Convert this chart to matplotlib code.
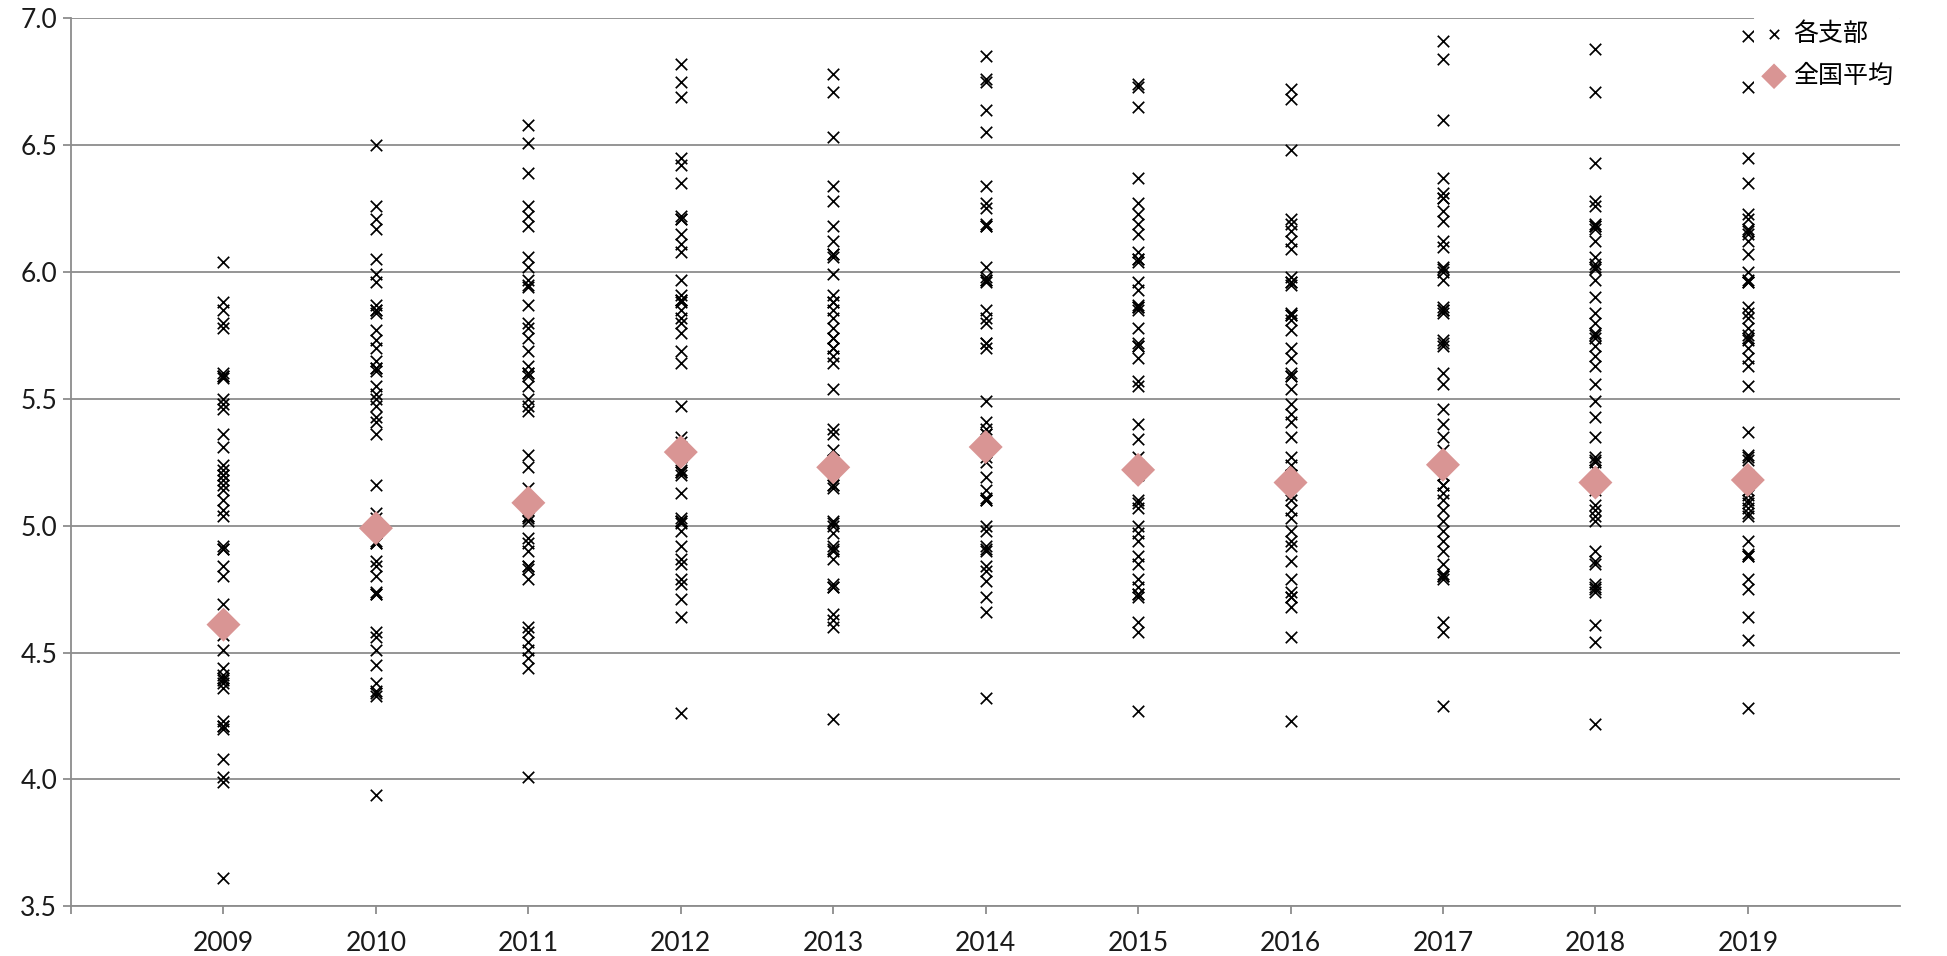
import matplotlib.pyplot as plt

plt.rcParams['font.family'] = ['Lato', 'Noto Sans CJK JP', 'DejaVu Sans']

years = [2009, 2010, 2011, 2012, 2013, 2014, 2015, 2016, 2017, 2018, 2019]

# values for each branch, per year
v2009 = [6.04, 5.88, 5.85, 5.80, 5.78, 5.60, 5.59, 5.59, 5.58, 5.50, 5.48, 5.46, 5.36, 5.31,
         5.24, 5.22, 5.20, 5.20, 5.18, 5.16, 5.14, 5.10, 5.06, 5.04, 4.92, 4.91, 4.91, 4.84,
         4.80, 4.69, 4.62, 4.57, 4.51, 4.44, 4.41, 4.40, 4.39, 4.38, 4.36, 4.23, 4.21, 4.21,
         4.20, 4.08, 4.01, 3.99, 3.61]
v2010 = [6.50, 6.26, 6.21, 6.17, 6.05, 5.99, 5.96, 5.87, 5.85, 5.85, 5.84, 5.77, 5.73, 5.70,
         5.65, 5.62, 5.62, 5.61, 5.55, 5.52, 5.50, 5.47, 5.43, 5.41, 5.36, 5.16, 5.05, 5.03,
         4.99, 4.94, 4.93, 4.93, 4.86, 4.84, 4.80, 4.74, 4.73, 4.73, 4.58, 4.56, 4.51, 4.45,
         4.38, 4.35, 4.34, 4.33, 3.94]
v2011 = [6.58, 6.51, 6.39, 6.26, 6.22, 6.18, 6.06, 6.02, 5.97, 5.95, 5.94, 5.87, 5.80, 5.78,
         5.74, 5.69, 5.63, 5.60, 5.60, 5.59, 5.55, 5.50, 5.47, 5.45, 5.28, 5.23, 5.15, 5.10,
         5.06, 5.04, 5.04, 5.03, 5.02, 4.95, 4.93, 4.90, 4.84, 4.84, 4.83, 4.79, 4.60, 4.58,
         4.54, 4.51, 4.48, 4.44, 4.01]
v2012 = [6.82, 6.75, 6.69, 6.45, 6.42, 6.35, 6.22, 6.21, 6.21, 6.15, 6.11, 6.08, 5.97, 5.91,
         5.89, 5.89, 5.88, 5.85, 5.82, 5.80, 5.76, 5.69, 5.64, 5.47, 5.35, 5.33, 5.31, 5.31,
         5.27, 5.22, 5.21, 5.21, 5.20, 5.13, 5.03, 5.02, 5.02, 5.01, 4.98, 4.92, 4.87, 4.85,
         4.79, 4.77, 4.71, 4.64, 4.26]
v2013 = [6.78, 6.71, 6.53, 6.34, 6.28, 6.18, 6.12, 6.07, 6.07, 6.06, 5.99, 5.91, 5.88, 5.88,
         5.85, 5.82, 5.78, 5.74, 5.74, 5.70, 5.70, 5.67, 5.64, 5.54, 5.38, 5.36, 5.30, 5.26,
         5.21, 5.16, 5.16, 5.15, 5.02, 5.01, 5.00, 4.97, 4.92, 4.91, 4.90, 4.87, 4.77, 4.76,
         4.76, 4.65, 4.63, 4.60, 4.24]
v2014 = [6.85, 6.76, 6.75, 6.64, 6.55, 6.34, 6.27, 6.25, 6.19, 6.18, 6.18, 6.02, 5.98, 5.97,
         5.97, 5.96, 5.85, 5.82, 5.80, 5.72, 5.72, 5.70, 5.49, 5.41, 5.38, 5.36, 5.36, 5.33,
         5.30, 5.27, 5.25, 5.19, 5.14, 5.11, 5.10, 5.10, 5.00, 4.98, 4.92, 4.91, 4.90, 4.84,
         4.82, 4.78, 4.72, 4.66, 4.32]
v2015 = [6.74, 6.73, 6.65, 6.37, 6.27, 6.23, 6.19, 6.15, 6.08, 6.05, 6.05, 6.04, 5.96, 5.93,
         5.87, 5.86, 5.86, 5.85, 5.78, 5.72, 5.71, 5.71, 5.66, 5.57, 5.55, 5.40, 5.34, 5.27,
         5.24, 5.24, 5.20, 5.10, 5.09, 5.07, 5.00, 4.97, 4.94, 4.88, 4.85, 4.79, 4.76, 4.73,
         4.73, 4.72, 4.62, 4.58, 4.27]
v2016 = [6.72, 6.68, 6.48, 6.21, 6.19, 6.16, 6.12, 6.09, 5.98, 5.96, 5.96, 5.95, 5.84, 5.83,
         5.83, 5.81, 5.77, 5.70, 5.66, 5.60, 5.59, 5.59, 5.54, 5.48, 5.44, 5.41, 5.35, 5.27,
         5.24, 5.20, 5.20, 5.16, 5.12, 5.10, 5.06, 5.03, 4.98, 4.94, 4.92, 4.86, 4.79, 4.74,
         4.72, 4.72, 4.68, 4.56, 4.23]
v2017 = [6.91, 6.84, 6.60, 6.37, 6.31, 6.29, 6.29, 6.24, 6.20, 6.12, 6.10, 6.02, 6.01, 6.00,
         5.97, 5.86, 5.85, 5.85, 5.84, 5.73, 5.72, 5.71, 5.60, 5.56, 5.46, 5.40, 5.35, 5.30,
         5.24, 5.20, 5.16, 5.16, 5.13, 5.10, 5.06, 5.02, 4.98, 4.94, 4.90, 4.85, 4.81, 4.80,
         4.80, 4.79, 4.62, 4.58, 4.29]
v2018 = [6.88, 6.71, 6.43, 6.28, 6.26, 6.19, 6.18, 6.18, 6.17, 6.12, 6.06, 6.03, 6.02, 6.01,
         5.97, 5.90, 5.84, 5.80, 5.76, 5.75, 5.74, 5.71, 5.67, 5.63, 5.56, 5.49, 5.43, 5.35,
         5.27, 5.26, 5.25, 5.22, 5.14, 5.08, 5.06, 5.04, 5.02, 4.90, 4.86, 4.85, 4.77, 4.76,
         4.75, 4.74, 4.61, 4.54, 4.22]
v2019 = [6.93, 6.73, 6.45, 6.35, 6.23, 6.21, 6.17, 6.16, 6.15, 6.12, 6.07, 6.00, 5.97, 5.96,
         5.96, 5.86, 5.84, 5.82, 5.78, 5.75, 5.74, 5.73, 5.70, 5.66, 5.63, 5.55, 5.37, 5.28,
         5.27, 5.26, 5.20, 5.14, 5.12, 5.10, 5.09, 5.07, 5.05, 5.04, 4.94, 4.89, 4.88, 4.88,
         4.79, 4.75, 4.64, 4.55, 4.28]

branch_values = [v2009, v2010, v2011, v2012, v2013, v2014, v2015, v2016, v2017, v2018, v2019]
national_avg = [4.61, 4.99, 5.09, 5.29, 5.23, 5.31, 5.22, 5.17, 5.24, 5.17, 5.18]

fig = plt.figure(figsize=(19.47, 9.56), dpi=100)
ax = fig.add_axes([0.0365, 0.052, 0.9395, 0.929])

xs, ys = [], []
for yr, vals in zip(years, branch_values):
    xs += [yr] * len(vals)
    ys += vals
ax.scatter(xs, ys, marker='x', s=68, color='black', linewidths=1.25, zorder=3, label='各支部')
ax.scatter(years, national_avg, marker='D', s=300, color='#D99594', edgecolors='none',
           zorder=4, label='全国平均')

ax.set_xlim(2008, 2020)
ax.set_ylim(3.5, 7.0)
ax.set_xticks([2008] + years)
ax.set_xticklabels([''] + [str(y) for y in years])
ax.set_yticks([3.5, 4.0, 4.5, 5.0, 5.5, 6.0, 6.5, 7.0])
ax.set_yticklabels(['3.5', '4.0', '4.5', '5.0', '5.5', '6.0', '6.5', '7.0'])
ax.yaxis.grid(True, color='#8c8c8c', linewidth=1.3)
ax.set_axisbelow(True)

for s in ['top', 'right']:
    ax.spines[s].set_visible(False)
for s in ['left', 'bottom']:
    ax.spines[s].set_color('#8c8c8c')
    ax.spines[s].set_linewidth(1.3)
ax.tick_params(axis='both', colors='#8c8c8c', labelcolor='#1a1a1a', labelsize=19,
               length=6, width=1.3)
ax.tick_params(axis='x', pad=12)
ax.tick_params(axis='y', pad=4)

leg = ax.legend(loc='upper right', bbox_to_anchor=(1.0, 1.005), frameon=True, fontsize=18,
                handletextpad=0.25, labelspacing=0.75, borderpad=0.3, handlelength=1.0,
                borderaxespad=0.0)
leg.get_frame().set_edgecolor('none')
leg.get_frame().set_facecolor('white')
leg.get_frame().set_alpha(1.0)
for h in leg.legend_handles:
    h.set_sizes([45] if h.get_label() == '各支部' else [170])

fig.savefig('out.png', dpi=100)
